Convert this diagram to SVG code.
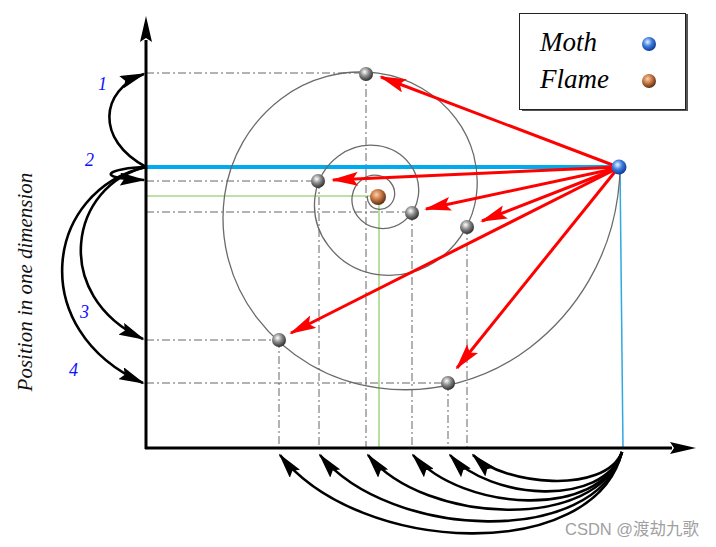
<svg xmlns="http://www.w3.org/2000/svg" width="716" height="547" viewBox="0 0 716 547">
<style>
.axis{stroke:#000;stroke-width:3;fill:none}
.dd{stroke:#666;stroke-width:1;fill:none;stroke-dasharray:8 3 2 3}
.spiral{stroke:#6a6a6a;stroke-width:1.3;fill:none}
.red{stroke:#ff0000;stroke-width:3;fill:none;marker-end:url(#ra)}
.blk{stroke:#000;stroke-width:2.6;fill:none;marker-end:url(#ba)}
.num{font-family:"Liberation Serif",serif;font-style:italic;font-size:18px;fill:#1010ff}
.lg{font-family:"Liberation Serif",serif;font-style:italic;font-size:27px;fill:#000}
</style>
<defs>
<marker id="ba" viewBox="0 0 26 13" refX="24" refY="6.5" markerWidth="26" markerHeight="13" markerUnits="userSpaceOnUse" orient="auto">
<path d="M0,0 L26,6.5 L0,13 L4,6.5 z" fill="#000"/>
</marker>
<marker id="ra" viewBox="0 0 27 14" refX="25" refY="7" markerWidth="27" markerHeight="14" markerUnits="userSpaceOnUse" orient="auto">
<path d="M0,0 L27,7 L0,14 L5,7 z" fill="#ff0000"/>
</marker>
<marker id="ax" viewBox="0 0 26 12" refX="2" refY="6" markerWidth="26" markerHeight="12" markerUnits="userSpaceOnUse" orient="auto">
<path d="M0,0 L26,6 L0,12 L4,6 z" fill="#000"/>
</marker>
<radialGradient id="gGray" cx="0.4" cy="0.35" r="0.7">
<stop offset="0" stop-color="#ffffff"/><stop offset="0.45" stop-color="#8a8a8a"/><stop offset="1" stop-color="#222"/>
</radialGradient>
<radialGradient id="gBlue" cx="0.4" cy="0.35" r="0.7">
<stop offset="0" stop-color="#e8f2ff"/><stop offset="0.45" stop-color="#3d7fe0"/><stop offset="1" stop-color="#0a2f8a"/>
</radialGradient>
<radialGradient id="gBrown" cx="0.4" cy="0.35" r="0.7">
<stop offset="0" stop-color="#ffd0a8"/><stop offset="0.5" stop-color="#c0703d"/><stop offset="1" stop-color="#4a2410"/>
</radialGradient>
</defs>

<g id="guides">
<path class="dd" d="M146,73 H366 M366,73 V448"/>
<path class="dd" d="M146,181 H318 M319,181 V448"/>
<path class="dd" d="M146,212 H412 M412,213 V448"/>
<path class="dd" d="M467,227 V448"/>
<path class="dd" d="M146,340 H279 M279,340 V448"/>
<path class="dd" d="M146,383 H448 M448,383 V448"/>
<path d="M146,196 H378 M379,196 V448" stroke="#a8d888" stroke-width="1.6" fill="none"/>
<path d="M146,167 H619" stroke="#00aaee" stroke-width="4" fill="none"/>
<path d="M620,167 L623,448" stroke="#30a8e0" stroke-width="1.5" fill="none"/>
</g>

<g id="spiral">
<path class="spiral" d="M620.2,166.3 A242,242 0 0 1 617.8,196 A229,229 0 0 1 529.7,347.7 A205,205 0 0 1 378,387.9 A183.5,183.5 0 0 1 256.6,317.4 A164,164 0 0 1 224.5,196 A146.7,146.7 0 0 1 280.9,98.9 A131.3,131.3 0 0 1 378,73.2 A117.4,117.4 0 0 1 455.7,118.3 A105.1,105.1 0 0 1 476.3,196 A94,94 0 0 1 440.2,258.2 A84,84 0 0 1 378,274.6 A75.1,75.1 0 0 1 328.3,245.7 A67.2,67.2 0 0 1 315.1,196 A60.1,60.1 0 0 1 338.2,156.2 A53.8,53.8 0 0 1 378,145.7 A48.1,48.1 0 0 1 409.8,164.2 A43,43 0 0 1 418.3,196 A38.5,38.5 0 0 1 403.5,221.5 A34.4,34.4 0 0 1 378,228.2 A30.8,30.8 0 0 1 357.6,216.4 A27.5,27.5 0 0 1 352.2,196 A24.7,24.7 0 0 1 361.7,179.7 A22.1,22.1 0 0 1 378,175.4 A19.7,19.7 0 0 1 391,183 A17.6,17.6 0 0 1 394.5,196 A15.8,15.8 0 0 1 388.4,206.4 A14.1,14.1 0 0 1 378,209.2 A12.6,12.6 0 0 1 369.7,204.3 A11.3,11.3 0 0 1 367.4,196"/>
</g>

<g id="axes">
<path class="axis" d="M146,449 V40" marker-end="url(#ax)"/>
<path class="axis" d="M145,448 H672" marker-end="url(#ax)"/>
</g>

<g id="connectors">
<path class="red" d="M618,167 L381,77"/>
<path class="red" d="M618,167 L333,180"/>
<path class="red" d="M618,168 L426,209"/>
<path class="red" d="M618,168 L482,221"/>
<path class="red" d="M618,168 L291,333"/>
<path class="red" d="M618,168 L457,368"/>
<path class="blk" d="M146,167 C95,140 100,90 144,74"/>
<path class="blk" d="M146,167 C110,168 90,178 144,180"/>
<path class="blk" d="M146,167 C70,185 50,295 143,339"/>
<path class="blk" d="M146,167 C45,190 25,330 143,383"/>
<path class="blk" d="M622,452 C605,495 503,485 473,455"/>
<path class="blk" d="M622,452 C603,508 490,500 450,455"/>
<path class="blk" d="M622,452 C600,520 463,512 413,455"/>
<path class="blk" d="M622,452 C598,532 425,525 368,455"/>
<path class="blk" d="M622,452 C596,548 390,540 320,455"/>
<path class="blk" d="M622,452 C594,564 360,556 280,455"/>
</g>

<g id="flame"><circle cx="378" cy="197" r="8" fill="url(#gBrown)"/></g>
<g id="moth"><circle cx="619" cy="167" r="7.5" fill="url(#gBlue)"/></g>
<g id="p1"><circle cx="366" cy="74" r="7" fill="url(#gGray)"/></g>
<g id="p2"><circle cx="318" cy="181" r="7" fill="url(#gGray)"/></g>
<g id="p3"><circle cx="412" cy="213" r="7" fill="url(#gGray)"/></g>
<g id="p4"><circle cx="467" cy="227" r="7" fill="url(#gGray)"/></g>
<g id="p5"><circle cx="279" cy="340" r="7" fill="url(#gGray)"/></g>
<g id="p6"><circle cx="448" cy="383" r="7" fill="url(#gGray)"/></g>

<g id="labels">
<text class="num" x="98" y="90">1</text>
<text class="num" x="85" y="166">2</text>
<text class="num" x="80" y="318">3</text>
<text class="num" x="69" y="376">4</text>
<text transform="translate(32,282) rotate(-90)" text-anchor="middle" font-family="Liberation Serif, serif" font-style="italic" font-size="21" fill="#111">Position in one dimension</text>
</g>

<g id="legend">
<rect x="522" y="14" width="166" height="97" fill="#555"/>
<rect x="519.5" y="13.5" width="166" height="96" fill="#fff" stroke="#222" stroke-width="1"/>
<text class="lg" x="540" y="51">Moth</text>
<text class="lg" x="540" y="88">Flame</text>
<circle cx="649" cy="44" r="7" fill="url(#gBlue)"/>
<circle cx="649" cy="81" r="7" fill="url(#gBrown)"/>
</g>

<text x="565" y="535" font-family="Liberation Sans, Noto Sans CJK SC, sans-serif" font-size="16.5" fill="#a0a0a0">CSDN @渡劫九歌</text>
</svg>
